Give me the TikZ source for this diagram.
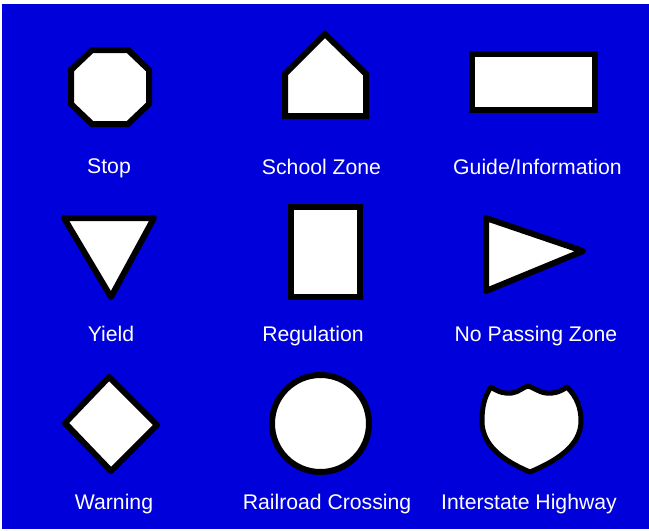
\documentclass[tikz,border=0pt]{standalone}
\usepackage{fontspec}
\setmainfont{Liberation Sans}
\definecolor{bgblue}{RGB}{0,0,218}
\tikzset{
  sign/.style={draw=black, fill=white, line width=6pt, line join=miter},
  signr/.style={draw=black, fill=white, line width=6pt, line join=round},
  lbl/.style={text=white, anchor=base, inner sep=0pt, font=\fontsize{21.2pt}{24pt}\selectfont}
}
\begin{document}
\begin{tikzpicture}[x=1pt,y=-1pt]
\useasboundingbox (0,0) rectangle (649,531);
\fill[white] (0,0) rectangle (649,531);
\fill[bgblue] (2,4) rectangle (649,529);
% Row 1
\draw[sign] (92,50) -- (128,50) -- (149,70) -- (149,104) -- (128,124) -- (92,124) -- (71,104) -- (71,70) -- cycle;
\node[lbl] (stop) at (109,173.5) {Stop};
\draw[sign] (325,34) -- (366,74) -- (366,116) -- (285,116) -- (285,74) -- cycle;
\node[lbl] (school) at (321.5,174) {School Zone};
\draw[sign] (471.5,54) rectangle (594.5,109.5);
\node[lbl] (guide) at (537.5,174) {Guide/Information};
% Row 2
\draw[signr] (64,218) -- (154,218) -- (111,297) -- cycle;
\node[lbl] (yield) at (111,341) {Yield};
\draw[sign] (291,207) rectangle (360,296.5);
\node[lbl] (reg) at (313,341) {Regulation};
\draw[signr] (486,218) -- (583,251) -- (486,291) -- cycle;
\node[lbl] (nopass) at (536,341) {No Passing Zone};
% Row 3
\draw[signr] (109,377) -- (157,425) -- (111,471) -- (65,423) -- cycle;
\node[lbl] (warn) at (114,509) {Warning};
\draw[sign] (320.5,423.5) circle[radius=48.5];
\node[lbl] (rail) at (327,509) {Railroad Crossing};
\draw[signr, line width=5pt] (491,387)
  .. controls (498,392) and (505,394) .. (512,393)
  .. controls (519,392) and (523,387) .. (528,386)
  .. controls (533,387) and (538,392) .. (546,393)
  .. controls (553,394) and (560,392) .. (567,387)
  .. controls (577,397) and (581,408) .. (581,421)
  .. controls (581,446) and (556,461) .. (530,472)
  .. controls (504,461) and (482,446) .. (482,421)
  .. controls (482,408) and (484,397) .. (491,387) -- cycle;
\node[lbl] (inter) at (529,509) {Interstate Highway};
\end{tikzpicture}
\end{document}
